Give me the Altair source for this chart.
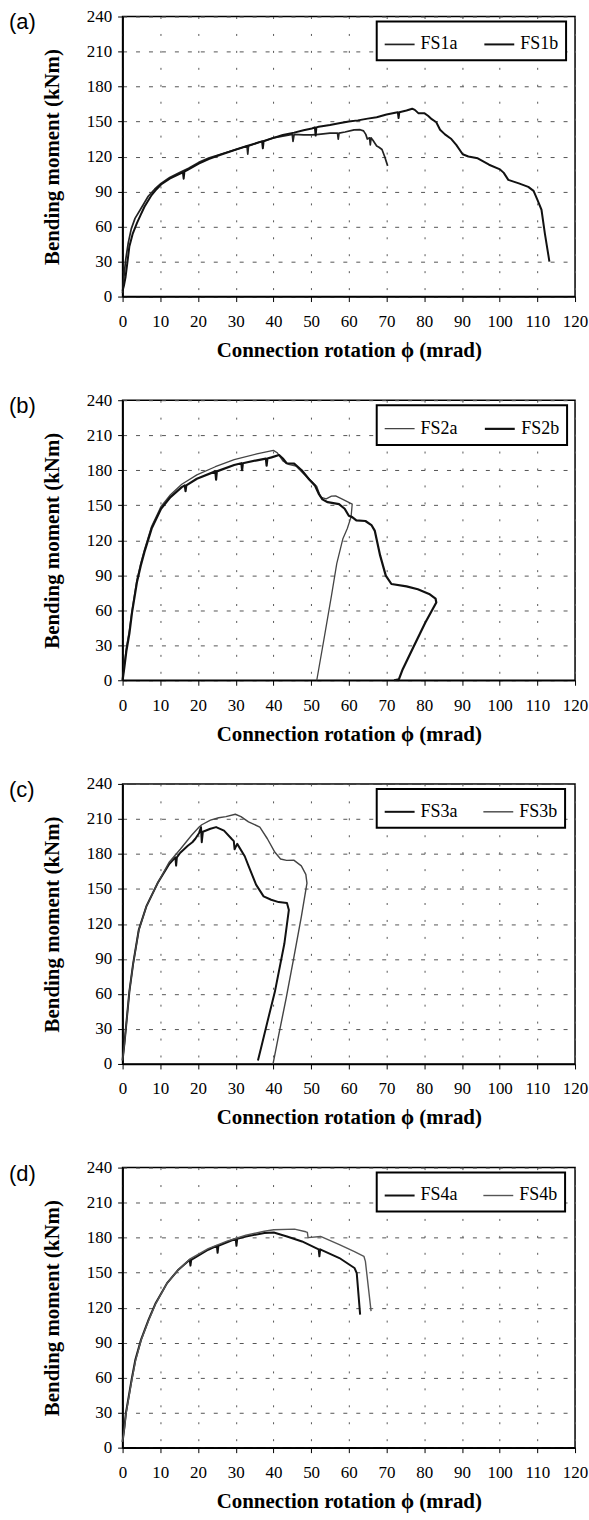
import altair as alt
import pandas as pd

# ---- measured moment-rotation curves (rotation in mrad, moment in kNm) ----
fs1a_rot = [0, 0.3, 0.8, 1.5, 2.3, 3.3, 4.8, 6.8, 8.5, 10.2, 12.5, 15, 17.5, 20.2, 23, 26, 30.1,
            33, 33.2, 33.4, 36, 40, 42.5, 45, 45.2, 45.5, 48, 50.2, 52, 55, 57, 57.2, 57.4, 59, 61.4,
            63, 63.9, 64.5, 64.9, 65.5, 65.7, 65.9, 66.4, 67, 67.4, 68, 68.8, 69.5, 70.3]
fs1a_mom = [3, 15, 31, 46, 58, 67, 75, 86, 92, 97, 102, 106, 110, 115, 119, 122, 126,
            129, 122, 129, 132, 136, 137.5, 139, 133, 139, 138.5, 138.5, 139, 140, 140, 135, 140, 141, 142.8,
            143, 142, 139, 135, 136, 130, 136, 134, 131, 129, 128, 126, 120, 112]

fs1b_rot = [0, 0.4, 0.8, 1.3, 1.8, 2.7, 3.8, 4.8, 5.8, 7.7, 9, 10.2, 12.5, 15, 16, 16.2, 16.4, 17.5,
            20.2, 23, 26, 30.1, 33, 36, 37, 37.2, 37.4, 40, 42.5, 45.5, 48, 50.2, 51, 51.2, 51.4, 52, 55,
            57.4, 60, 62.4, 65, 67.4, 70, 72.3, 73, 73.2, 73.4, 75.3, 76.8, 77.5, 78.5, 80.1, 81, 82,
            83.2, 84.2, 85.5, 87.2, 88.5, 90.2, 91.7, 94.2, 97.2, 100.1, 101.1, 102.3, 105.1, 107.6,
            109, 110, 111.1, 112, 113.2]
fs1b_mom = [5, 10, 17, 30, 43, 54, 63, 70, 77, 87, 92, 96, 101, 105, 106.5, 101, 107, 109,
            114, 118, 121.5, 126, 129, 132, 133, 127, 133, 136, 138.5, 140.5, 142.5, 144, 145, 138, 145, 145.5, 147,
            148.5, 150, 151, 152.5, 153.7, 156, 157.5, 158, 153, 158, 159.5, 161, 160, 157, 157, 155, 152,
            149.4, 143, 139, 135, 130, 122, 120, 118.5, 113, 109, 106, 100, 97, 94,
            90.6, 83, 74.4, 54, 30]

fs2a_rot = [0, 0.5, 1, 1.8, 2.5, 3.8, 4.8, 5.8, 7.7, 10.2, 12.7, 15.7, 19.7, 24.6, 29.6, 35.6,
            40, 41, 42.5, 44, 46, 48, 50, 51.5, 52.5, 54, 55.4, 56.5, 58.4, 60.9, 60.6, 59.6, 58.4,
            56.8, 55.4, 53.4, 51.5]
fs2a_mom = [0, 14, 28, 43, 60, 86, 100, 112, 132, 149, 159, 168, 176, 183, 189, 194,
            197, 195, 188, 185, 183.5, 177, 171, 166, 157, 155.5, 157.8, 158, 155, 151, 140, 130, 121,
            100, 72.5, 35, 0]

fs2b_rot = [0, 0.5, 1, 1.8, 2.5, 3.8, 4.8, 5.8, 7.7, 10.2, 12.7, 15.7, 16.5, 16.7, 16.9, 19.7, 24.6,
            24.8, 25, 29.6, 31.5, 31.7, 31.9, 35.6, 38, 38.2, 38.4, 39.5, 41.5, 42.5, 43.5, 45.5, 47.5,
            49.5, 51, 52, 53, 54.4, 57.4, 58.9, 60, 60.9, 62, 64.4, 66, 66.9, 68.3, 69.8, 71.3, 75.3,
            78.3, 81.3, 83, 83.2, 80.3, 77.3, 74.3, 73.3, 72]
fs2b_mom = [0, 12, 25, 40, 58, 84, 98, 110, 130, 147, 157, 165.5, 167, 162, 167, 172.7, 179,
            172, 179, 184.5, 186, 180, 186, 188.5, 190, 184, 190, 191, 193, 190, 186, 185.6, 180,
            172, 167, 160, 155, 152.6, 151, 147, 141, 139.8, 137, 136.5, 133, 128, 107, 89.7, 82.5, 80.5,
            78, 74, 70, 66.7, 49.5, 29.5, 9.5, 0.9, 0]

fs3a_rot = [0, 0.5, 0.8, 1.8, 2.8, 4.3, 6.3, 9.3, 12.3, 14, 14.2, 14.4, 15.3, 17.3, 18.5, 19.3, 20.3,
            20.8, 21, 21.3, 23.3, 24.8, 26.9, 28.9, 29.5, 29.7, 30.4, 32.4, 33.4, 35.4, 37.4, 39.4,
            41.4, 43.6, 44.1, 42.9, 40.4, 38.4, 36.9, 35.9]
fs3a_mom = [3, 18, 28, 62, 86, 115, 135, 155, 171, 177, 170, 177, 181, 187, 190, 193, 198,
            203, 190, 199, 201.6, 203, 200, 193, 191, 184, 188.6, 178, 169.7, 153.7, 143.6, 140.7,
            138.7, 138, 132, 103, 62, 36, 16, 3]

fs3b_rot = [0, 0.5, 0.8, 1.8, 2.8, 4.3, 6.3, 9.3, 12.3, 15.3, 18.3, 20.3, 21, 23.3, 25.5, 27.4,
            29.9, 31.4, 33.4, 36.4, 38.4, 40.4, 41.9, 43.5, 45.4, 47.4, 48.6, 48.9, 47.4, 45.4, 43.4,
            41.4, 39.9]
fs3b_mom = [3, 17, 27.6, 62, 85.6, 114.6, 135, 155, 172.6, 184, 196, 203, 205, 209, 211, 212,
            214, 212, 207.5, 203, 193, 181.4, 175.6, 174.5, 174.7, 169.8, 162.5, 155, 126, 91, 56.6,
            24.7, 0]

fs4a_rot = [0, 0.5, 0.9, 2.4, 3.4, 4.9, 6.9, 8.8, 11.8, 14.8, 17.8, 18, 18.2, 22.7, 25, 25.2, 25.4,
            27.7, 30, 30.2, 30.4, 32.7, 37.6, 40.1, 43.6, 47.6, 52, 52.2, 52.4, 57.5, 61.5, 62.1, 63]
fs4a_mom = [5, 18, 30, 58.4, 75.5, 92.6, 109.7, 124, 141, 152.5, 161, 156, 161, 169.6, 173, 167, 173,
            176, 179, 173, 179, 181, 184, 184.4, 181, 176.7, 170, 164, 170, 162.5, 154, 149.6, 114]

fs4b_rot = [0, 0.5, 0.9, 2.4, 3.4, 4.9, 6.9, 8.8, 11.8, 14.8, 17.8, 22.7, 27.7, 32.7, 37.6, 40.1,
            45.6, 48.6, 49, 49.2, 52.5, 57.5, 61.5, 64, 64.4, 65.9]
fs4b_mom = [5, 17, 29, 57, 74, 92, 109, 123.5, 141, 152.5, 161.5, 170.5, 177, 182, 185.5, 186.7,
            187.3, 185, 184.5, 180, 181, 174, 168, 164, 159.6, 117]

panel_tags = ["(a)", "(b)", "(c)", "(d)"]
panel_series = [
    [("FS1a", fs1a_rot, fs1a_mom), ("FS1b", fs1b_rot, fs1b_mom)],
    [("FS2a", fs2a_rot, fs2a_mom), ("FS2b", fs2b_rot, fs2b_mom)],
    [("FS3a", fs3a_rot, fs3a_mom), ("FS3b", fs3b_rot, fs3b_mom)],
    [("FS4a", fs4a_rot, fs4a_mom), ("FS4b", fs4b_rot, fs4b_mom)],
]
# line colour / weight per specimen in each panel
panel_colors = [["#222222", "#111111"], ["#444444", "#111111"], ["#111111", "#444444"], ["#111111", "#555555"]]
panel_widths = [[1.7, 2.0], [1.3, 2.2], [2.0, 1.4], [2.0, 1.4]]

SERIF = "Liberation Serif"
W, H = 454, 281


def make_panel(tag, series, colors, widths):
    rows = []
    for name, rot, mom in series:
        for i, (r, m) in enumerate(zip(rot, mom)):
            rows.append({"series": name, "rot": r, "mom": m, "idx": i})
    df = pd.DataFrame(rows)
    names = [s[0] for s in series]

    lines = alt.Chart(df).mark_line(strokeJoin="round").encode(
        x=alt.X("rot:Q",
                scale=alt.Scale(domain=[0, 120], nice=False, zero=False),
                axis=alt.Axis(values=list(range(0, 121, 10)), grid=True,
                              gridDash=[2, 15], gridColor="#555555", gridWidth=1,
                              labelPadding=12, titlePadding=10,
                              title="Connection rotation ϕ (mrad)")),
        y=alt.Y("mom:Q",
                scale=alt.Scale(domain=[0, 240], nice=False),
                axis=alt.Axis(values=list(range(0, 241, 30)), grid=True,
                              gridDash=[4, 9], gridColor="#555555", gridWidth=1,
                              labelPadding=6, titlePadding=24,
                              title="Bending moment (kNm)")),
        color=alt.Color("series:N",
                        scale=alt.Scale(domain=names, range=colors),
                        legend=alt.Legend(title=None, orient="none", legendX=255, legendY=5,
                                          direction="horizontal", symbolType="stroke",
                                          symbolSize=900, symbolStrokeWidth=1.8,
                                          labelFont=SERIF, labelFontSize=18, labelColor="black",
                                          labelOffset=5, columnPadding=22, padding=7,
                                          fillColor="white", strokeColor="black")),
        strokeWidth=alt.StrokeWidth("series:N",
                                    scale=alt.Scale(domain=names, range=widths),
                                    legend=None),
        order="idx:Q",
    )

    label = alt.Chart(pd.DataFrame({"tag": [tag]})).mark_text(
        font="Liberation Sans", fontSize=22, align="left", baseline="middle", color="black"
    ).encode(x=alt.value(-114), y=alt.value(6), text="tag:N")

    return alt.layer(lines, label).properties(width=W, height=H)


panels = [make_panel(t, s, c, w) for t, s, c, w in zip(panel_tags, panel_series, panel_colors, panel_widths)]

chart = alt.vconcat(*panels, spacing=29).resolve_scale(
    color="independent", strokeWidth="independent"
).resolve_legend(color="independent").properties(
    padding={"left": 8, "top": 4, "right": 0, "bottom": 0},
    background="white",
).configure_view(
    stroke="black", strokeWidth=1.5
).configure_axis(
    domainColor="black", domainWidth=1.6, tickColor="black", tickSize=5, tickWidth=1,
    labelFont=SERIF, labelFontSize=17, labelColor="black",
    titleFont=SERIF, titleFontSize=21, titleFontWeight="bold", titleColor="black",
    labelFlush=False,
).configure_legend(
    strokeWidth=2
)

chart.save("out.html", embed_options={"renderer": "svg", "actions": False})
